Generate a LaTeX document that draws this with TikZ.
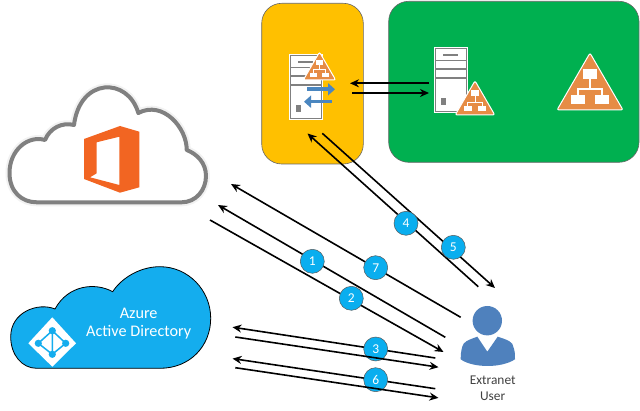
\documentclass[tikz,border=0pt]{standalone}
\usepackage{fontspec}
\setmainfont{Carlito}
\usetikzlibrary{arrows.meta}
\definecolor{panelyellow}{HTML}{FFC000}
\definecolor{panelgreen}{HTML}{00B050}
\definecolor{orgorange}{HTML}{E68C45}
\definecolor{officeorange}{HTML}{F26522}
\definecolor{azureblue}{HTML}{14ADEE}
\definecolor{badgeblue}{HTML}{0AAEEF}
\definecolor{userblue}{HTML}{4F81BD}
\definecolor{swapblue}{HTML}{4A86C0}
\tikzset{
  panel/.style={draw=black!60, line width=0.6pt, rounded corners=20pt},
  flow/.style={draw=black, line width=1.6pt},
  flowtip/.style={flow, -{Stealth[length=9pt,width=8pt]}},
  badge/.style={circle, draw=black!65, line width=0.5pt, fill=badgeblue, text=white, minimum size=24pt, inner sep=0pt, font=\fontsize{13.5}{13.5}\selectfont},
  swap/.style={draw=swapblue, line width=3.6pt, -{Triangle[length=7pt,width=12pt]}},
  pics/orgtri/.style={code={
    \draw[white, line width=1pt, fill=orgorange, rounded corners=2pt] (0,-57) -- (33,0) -- (-33,0) -- cycle;
    \fill[white] (-7,-41) rectangle (7,-31);
    \fill[white] (-19,-15) rectangle (-5,-6);
    \fill[white] (5,-15) rectangle (19,-6);
    \draw[white, line width=#1] (0,-31) -- (0,-21) (-12,-15) -- (-12,-21) -- (12,-21) -- (12,-15);
  }},
  pics/server/.style={code={
    \fill[white] (0,0) rectangle (34,66);
    \draw[black!50, line width=1.4pt, fill=white] (1.6,1.6) rectangle (32.4,64.4);
    \draw[black!50, line width=1.2pt] (1.6,13.5) -- (32.4,13.5) (1.6,22) -- (32.4,22) (1.6,31) -- (32.4,31);
    \draw[black!50, line width=1.2pt] (9,8) -- (24,8);
    \fill[black!50] (6.5,51) rectangle (11.5,58.5);
  }}
}
\begin{document}
\begin{tikzpicture}[x=1pt,y=-1pt]
\useasboundingbox (0,0) rectangle (640,411);
% panels
\draw[panel, fill=panelyellow] (261.7,3.3) rectangle (363.3,164);
\draw[panel, fill=panelgreen] (388.7,1.3) rectangle (639,162.3);
% servers
\pic at (289,54) {server};
\pic at (434,47) {server};
\pic[scale=0.49] at (319.5,80) {orgtri=0.7pt};
\pic[scale=0.6] at (475,115) {orgtri=0.9pt};
\pic at (590,110) {orgtri=1.3pt};
\coordinate (swapa) at (307,89.3);
\coordinate (swapb) at (335,89.3);
\coordinate (swapc) at (332,101.7);
\coordinate (swapd) at (304,101.7);
\draw[swap] (swapa) -- (swapb);
\draw[swap] (swapc) -- (swapd);
% office cloud
\draw[black!5, line width=8pt, fill=white] (36.7,202.3) -- (181.7,202.3) .. controls (196,202.3) and (206,190) .. (206,176) .. controls (206,163) and (197,154) .. (186.7,150) .. controls (187,128) and (163,100) .. (138.3,113) .. controls (128,77) and (80,77) .. (74,125) .. controls (62,122) and (50,128) .. (45,140) .. controls (28,135) and (9.5,150) .. (9.5,173) .. controls (9.5,192) and (22,202.3) .. (36.7,202.3) -- cycle;
\draw[black!50, line width=4pt, line join=round, fill=white] (36.7,202.3) -- (181.7,202.3) .. controls (196,202.3) and (206,190) .. (206,176) .. controls (206,163) and (197,154) .. (186.7,150) .. controls (187,128) and (163,100) .. (138.3,113) .. controls (128,77) and (80,77) .. (74,125) .. controls (62,122) and (50,128) .. (45,140) .. controls (28,135) and (9.5,150) .. (9.5,173) .. controls (9.5,192) and (22,202.3) .. (36.7,202.3) -- cycle;
\fill[officeorange, even odd rule] (84,139) -- (120,126) -- (139.3,131.7) -- (139.3,187.3) -- (120,192.7) -- (84,179) -- cycle (96.7,142.3) -- (119.3,136.7) -- (119.3,185) -- (90,177.3) -- (96.7,173.3) -- cycle;
% azure cloud
\draw[black, line width=0.8pt, fill=azureblue] (36.7,368.3) -- (160,368.3) .. controls (190,368.3) and (210.7,346) .. (210.7,318.3) .. controls (210.7,290) and (188,266.7) .. (160,266.7) .. controls (138,266.7) and (120,280) .. (112.7,291.7) .. controls (95,282) and (68,285) .. (55,309) .. controls (38,302) and (10.7,312) .. (10.7,336.7) .. controls (10.7,355) and (22,368.3) .. (36.7,368.3) -- cycle;
\fill[white] (52.3,317.3) -- (76,343.3) -- (52.3,366.7) -- (28.3,343.3) -- cycle;
\draw[azureblue, line width=1.5pt] (52.3,330.7) -- (65.7,343.3) -- (52.3,354.3) -- (38.3,343.3) -- cycle (52.3,330.7) -- (52.3,354.3);
\fill[azureblue] (52.3,330.7) circle (3.6) (65.7,343.3) circle (3.6) (52.3,354.3) circle (3.6) (38.3,343.3) circle (3.6);
\node[text=white, font=\fontsize{16.2}{16.2}\selectfont] (azurea) at (138.7,313.5) {Azure};
\node[text=white, font=\fontsize{16.2}{16.2}\selectfont] (azureb) at (138.7,332) {Active Directory};
% user
\fill[userblue] (487.3,320.7) circle (14.7);
\fill[userblue] (477.3,336.7) -- (487.3,351.7) -- (497.7,336.7) .. controls (508,340) and (513,342) .. (513.3,346.7) .. controls (515,351) and (515,355) .. (515,359.3) .. controls (508,364) and (497,366) .. (487.7,366) .. controls (478,366) and (467,364) .. (460.7,359.3) .. controls (460.7,355) and (461,351) .. (462.3,346.7) .. controls (463,342) and (468,340) .. (477.3,336.7) -- cycle;
\node[text=black!75, font=\fontsize{13.4}{13.4}\selectfont] (usera) at (492.7,380.3) {Extranet};
\node[text=black!75, font=\fontsize{13.4}{13.4}\selectfont] (userb) at (492.7,396.3) {User};
% end points
\coordinate (fa) at (429,83.3);
\coordinate (fb) at (350,83.3);
\coordinate (gb) at (352.3,93);
\coordinate (ga) at (429,93);
\coordinate (s1) at (445.3,337.3);
\coordinate (t1) at (218,205);
\coordinate (s7) at (460.7,317.3);
\coordinate (t7) at (231,184);
\coordinate (s2) at (210,220);
\coordinate (t2) at (443.5,352);
\coordinate (s4) at (478.3,286.7);
\coordinate (t4) at (307.5,133.5);
\coordinate (s5) at (322.3,133.3);
\coordinate (t5) at (495,288);
\coordinate (s3) at (435.3,358);
\coordinate (t3) at (232.5,327.2);
\coordinate (r3) at (235.3,337);
\coordinate (q3) at (438.5,367.2);
\coordinate (s6) at (435.3,388.7);
\coordinate (t6) at (232.5,358.6);
\coordinate (r6) at (235.3,367.7);
\coordinate (q6) at (438.5,397.9);
% flows
\draw[flowtip] (fa) -- (fb);
\draw[flowtip] (gb) -- (ga);
\draw[flowtip] (s1) -- (t1);
\draw[flowtip] (s7) -- (t7);
\draw[flowtip] (s2) -- (t2);
\draw[flowtip] (s4) -- (t4);
\draw[flowtip] (s5) -- (t5);
\draw[flowtip] (s3) -- (t3);
\draw[flowtip] (s6) -- (t6);
\node[badge] (b3) at (375.7,349) {3};
\node[badge] (b6) at (375.7,379.7) {6};
\draw[flowtip] (r3) -- (q3);
\draw[flowtip] (r6) -- (q6);
\node[badge] (b1) at (312.3,261.3) {1};
\node[badge] (b7) at (375.7,267.7) {7};
\node[badge] (b2) at (351.3,298.3) {2};
\node[badge] (b4) at (406,223.3) {4};
\node[badge] (b5) at (453.3,247.3) {5};
\end{tikzpicture}
\end{document}
